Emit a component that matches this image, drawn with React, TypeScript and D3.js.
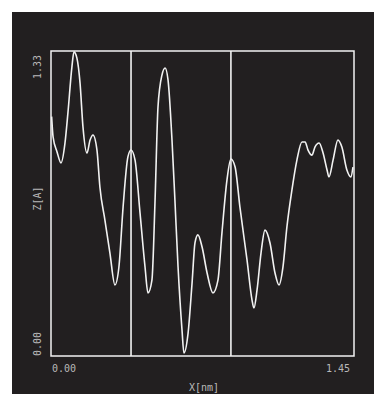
import React from "react";
import * as d3 from "d3";

// profile samples: X in nm, Z in Angstrom
const xValues = [
  0.003, 0.01, 0.029, 0.048, 0.067, 0.081, 0.1, 0.11, 0.124, 0.139, 0.153, 0.172, 0.187, 0.201,
  0.22, 0.234, 0.258, 0.282, 0.306, 0.325, 0.345, 0.368, 0.383, 0.402, 0.426, 0.45, 0.464,
  0.483, 0.498, 0.512, 0.531, 0.546, 0.56, 0.579, 0.593, 0.608, 0.627, 0.636, 0.656, 0.675,
  0.689, 0.703, 0.723, 0.747, 0.775, 0.799, 0.818, 0.842, 0.861, 0.881, 0.904, 0.938, 0.962,
  0.971, 0.986, 1.005, 1.024, 1.048, 1.072, 1.091, 1.11, 1.129, 1.153, 1.177, 1.201, 1.216,
  1.23, 1.249, 1.263, 1.283, 1.302, 1.321, 1.33, 1.35, 1.373, 1.392, 1.416, 1.435, 1.445,
];
const zValues = [
  1.044, 0.955, 0.89, 0.842, 0.929, 1.06, 1.26, 1.326, 1.299, 1.19, 0.999, 0.885, 0.942, 0.964,
  0.898, 0.737, 0.593, 0.449, 0.31, 0.388, 0.65, 0.868, 0.898, 0.855, 0.624, 0.388, 0.275,
  0.331, 0.68, 1.086, 1.225, 1.256, 1.204, 0.942, 0.68, 0.388, 0.113, 0.013, 0.1, 0.318,
  0.493, 0.528, 0.475, 0.362, 0.275, 0.331, 0.536, 0.767, 0.859, 0.824, 0.65, 0.419, 0.244,
  0.209, 0.288, 0.449, 0.549, 0.493, 0.362, 0.31, 0.388, 0.563, 0.724, 0.855, 0.933, 0.933,
  0.898, 0.876, 0.911, 0.929, 0.885, 0.811, 0.781, 0.855, 0.942, 0.911, 0.811, 0.781, 0.824,
];
const cursorX = [0.383, 0.861];
const xTicks = ["0.00", "1.45"];
const yTicks = ["0.00", "1.33"];

const W = 374;
const H = 394;
const plot = { left: 51, right: 354, top: 51, bottom: 356 };
const BG = "#221f20";
const FG = "#f2f2f2";
const TXT = "#b9b9b9";

export default function App() {
  const x = d3.scaleLinear().domain([0, 1.45]).range([plot.left, plot.right]);
  const y = d3.scaleLinear().domain([0, 1.33]).range([plot.bottom, plot.top]);

  const pts = xValues.map((v, i) => [v, zValues[i]] as [number, number]);
  const line = d3
    .line<[number, number]>()
    .x((d) => x(d[0]))
    .y((d) => y(d[1]))
    .curve(d3.curveMonotoneX);

  const font = "'DejaVu Sans Mono', monospace";

  return (
    <svg
      width={W}
      height={H}
      style={{ position: "absolute", left: 0, top: 0, display: "block" }}
    >
      <rect x={0} y={0} width={W} height={H} fill="#ffffff" />
      <rect x={12} y={12} width={W - 12} height={H - 12} fill={BG} />

      <path d={line(pts) || ""} fill="none" stroke={FG} strokeWidth={1.6} />

      {cursorX.map((c, i) => (
        <line
          key={i}
          x1={x(c)}
          x2={x(c)}
          y1={plot.top}
          y2={plot.bottom}
          stroke={FG}
          strokeWidth={1.6}
        />
      ))}

      <rect
        x={plot.left}
        y={plot.top}
        width={plot.right - plot.left}
        height={plot.bottom - plot.top}
        fill="none"
        stroke={FG}
        strokeWidth={1.5}
      />

      {/* y ticks, rotated */}
      {yTicks.map((t) => {
        const v = +t;
        const cy = v === 0 ? 344 : 67;
        return (
          <text
            key={t}
            transform={`translate(41,${cy}) rotate(-90)`}
            textAnchor="middle"
            fontFamily={font}
            fontSize={10}
            fill={TXT}
          >
            {t}
          </text>
        );
      })}
      <text
        transform={`translate(41,${(plot.top + plot.bottom) / 2 - 5}) rotate(-90)`}
        textAnchor="middle"
        fontFamily={font}
        fontSize={10}
        fill={TXT}
      >
        Z[A]
      </text>

      {/* x ticks */}
      {xTicks.map((t, i) => (
        <text
          key={t}
          x={i === 0 ? x(+t) + 1 : x(+t) - 4}
          y={372}
          textAnchor={i === 0 ? "start" : "end"}
          fontFamily={font}
          fontSize={10}
          fill={TXT}
        >
          {t}
        </text>
      ))}
      <text
        x={204}
        y={391}
        textAnchor="middle"
        fontFamily={font}
        fontSize={10}
        fill={TXT}
      >
        X[nm]
      </text>
    </svg>
  );
}
